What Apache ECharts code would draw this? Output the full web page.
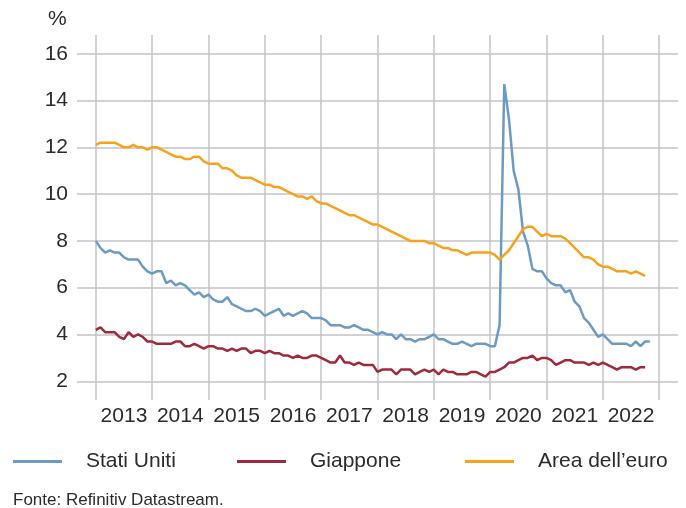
<!DOCTYPE html>
<html>
<head>
<meta charset="utf-8">
<script src="https://cdn.jsdelivr.net/npm/echarts@6/dist/echarts.min.js"></script>
<style>
  html, body { margin: 0; padding: 0; background: #fff; }
  #chart { width: 686px; height: 508px; }
</style>
</head>
<body>
<div id="chart"></div>
<script>
// monthly data, Jan 2013 onwards (x = months since Jan 2013)
const years = [2013, 2014, 2015, 2016, 2017, 2018, 2019, 2020, 2021, 2022];
const yTicks = [2, 4, 6, 8, 10, 12, 14, 16];

const statiUniti = [
  8.0, 7.7, 7.5, 7.6, 7.5, 7.5, 7.3, 7.2, 7.2, 7.2, 6.9, 6.7,
  6.6, 6.7, 6.7, 6.2, 6.3, 6.1, 6.2, 6.1, 5.9, 5.7, 5.8, 5.6,
  5.7, 5.5, 5.4, 5.4, 5.6, 5.3, 5.2, 5.1, 5.0, 5.0, 5.1, 5.0,
  4.8, 4.9, 5.0, 5.1, 4.8, 4.9, 4.8, 4.9, 5.0, 4.9, 4.7, 4.7,
  4.7, 4.6, 4.4, 4.4, 4.4, 4.3, 4.3, 4.4, 4.3, 4.2, 4.2, 4.1,
  4.0, 4.1, 4.0, 4.0, 3.8, 4.0, 3.8, 3.8, 3.7, 3.8, 3.8, 3.9,
  4.0, 3.8, 3.8, 3.7, 3.6, 3.6, 3.7, 3.6, 3.5, 3.6, 3.6, 3.6,
  3.5, 3.5, 4.4, 14.7, 13.2, 11.0, 10.2, 8.4, 7.8, 6.8, 6.7, 6.7,
  6.4, 6.2, 6.1, 6.1, 5.8, 5.9, 5.4, 5.2, 4.7, 4.5, 4.2, 3.9,
  4.0, 3.8, 3.6, 3.6, 3.6, 3.6, 3.5, 3.7, 3.5, 3.7, 3.7
];

const giappone = [
  4.2, 4.3, 4.1, 4.1, 4.1, 3.9, 3.8, 4.1, 3.9, 4.0, 3.9, 3.7,
  3.7, 3.6, 3.6, 3.6, 3.6, 3.7, 3.7, 3.5, 3.5, 3.6, 3.5, 3.4,
  3.5, 3.5, 3.4, 3.4, 3.3, 3.4, 3.3, 3.4, 3.4, 3.2, 3.3, 3.3,
  3.2, 3.3, 3.2, 3.2, 3.1, 3.1, 3.0, 3.1, 3.0, 3.0, 3.1, 3.1,
  3.0, 2.9, 2.8, 2.8, 3.1, 2.8, 2.8, 2.7, 2.8, 2.7, 2.7, 2.7,
  2.4, 2.5, 2.5, 2.5, 2.3, 2.5, 2.5, 2.5, 2.3, 2.4, 2.5, 2.4,
  2.5, 2.3, 2.5, 2.4, 2.4, 2.3, 2.3, 2.3, 2.4, 2.4, 2.3, 2.2,
  2.4, 2.4, 2.5, 2.6, 2.8, 2.8, 2.9, 3.0, 3.0, 3.1, 2.9, 3.0,
  3.0, 2.9, 2.7, 2.8, 2.9, 2.9, 2.8, 2.8, 2.8, 2.7, 2.8, 2.7,
  2.8, 2.7, 2.6, 2.5, 2.6, 2.6, 2.6, 2.5, 2.6, 2.6
];

const areaEuro = [
  12.1, 12.2, 12.2, 12.2, 12.2, 12.1, 12.0, 12.0, 12.1, 12.0, 12.0, 11.9,
  12.0, 12.0, 11.9, 11.8, 11.7, 11.6, 11.6, 11.5, 11.5, 11.6, 11.6, 11.4,
  11.3, 11.3, 11.3, 11.1, 11.1, 11.0, 10.8, 10.7, 10.7, 10.7, 10.6, 10.5,
  10.4, 10.4, 10.3, 10.3, 10.2, 10.1, 10.0, 9.9, 9.9, 9.8, 9.9, 9.7,
  9.6, 9.6, 9.5, 9.4, 9.3, 9.2, 9.1, 9.1, 9.0, 8.9, 8.8, 8.7,
  8.7, 8.6, 8.5, 8.4, 8.3, 8.2, 8.1, 8.0, 8.0, 8.0, 8.0, 7.9,
  7.9, 7.8, 7.7, 7.7, 7.6, 7.6, 7.5, 7.4, 7.5, 7.5, 7.5, 7.5,
  7.5, 7.4, 7.2, 7.4, 7.6, 7.9, 8.2, 8.5, 8.6, 8.6, 8.4, 8.2,
  8.3, 8.2, 8.2, 8.2, 8.1, 7.9, 7.7, 7.5, 7.3, 7.3, 7.2, 7.0,
  6.9, 6.9, 6.8, 6.7, 6.7, 6.7, 6.6, 6.7, 6.6, 6.5
];

const font = 'Liberation Sans, Arial, sans-serif';
const txt = '#2b2b2b';

// x as months since Jan 2013
const toPoints = arr => arr.map((v, i) => [i, v]);
const yearLines = years.map((y, i) => i * 12).concat([years.length * 12]);
const yearMids = years.map((y, i) => i * 12 + 6);

const chart = echarts.init(document.getElementById('chart'));

function legendItem(name, left) {
  return {
    data: [name],
    left: left,
    top: 451,
    padding: 0,
    icon: 'rect',
    itemWidth: 49,
    itemHeight: 3,
    selectedMode: false,
    textStyle: {
      fontFamily: font,
      fontSize: 21,
      color: txt,
      padding: [0, 0, 0, 19]
    }
  };
}

chart.setOption({
  animation: false,
  title: [
    {
      text: '%',
      left: 48,
      top: 9,
      padding: 0,
      textStyle: { fontFamily: font, fontSize: 21, fontWeight: 'normal', color: txt }
    },
    {
      text: 'Fonte: Refinitiv Datastream.',
      left: 13,
      top: 492,
      padding: 0,
      textStyle: { fontFamily: font, fontSize: 17, fontWeight: 'normal', color: txt }
    }
  ],
  legend: [
    legendItem('Stati Uniti', 13),
    legendItem('Giappone', 237),
    legendItem('Area dell\u2019euro', 465)
  ],
  grid: { left: 77, right: 8, top: 35, bottom: 108, containLabel: false },
  xAxis: {
    type: 'value',
    min: -4,
    max: 124,
    axisLine: { show: false },
    axisTick: { show: false, customValues: yearLines },
    splitLine: { show: true, lineStyle: { color: '#c2c2c9', width: 1.5 } },
    axisLabel: {
      customValues: yearMids,
      formatter: v => String(years[(v - 6) / 12]),
      fontFamily: font,
      fontSize: 21,
      color: txt,
      margin: 6
    }
  },
  yAxis: {
    type: 'value',
    min: 1.2,
    max: 16.8,
    axisLine: { show: false },
    axisTick: { show: false, customValues: yTicks },
    splitLine: { show: true, lineStyle: { color: '#c2c2c9', width: 1.5 } },
    axisLabel: {
      customValues: yTicks,
      fontFamily: font,
      fontSize: 21,
      color: txt,
      margin: 9
    }
  },
  series: [
    {
      name: 'Stati Uniti',
      type: 'line',
      data: toPoints(statiUniti),
      showSymbol: false,
      color: '#6b9bc3',
      lineStyle: { width: 2.5, color: '#6b9bc3' }
    },
    {
      name: 'Giappone',
      type: 'line',
      data: toPoints(giappone),
      showSymbol: false,
      color: '#9e2a3b',
      lineStyle: { width: 2.5, color: '#9e2a3b' }
    },
    {
      name: 'Area dell\u2019euro',
      type: 'line',
      data: toPoints(areaEuro),
      showSymbol: false,
      color: '#f7a21c',
      lineStyle: { width: 2.5, color: '#f7a21c' }
    }
  ]
});
</script>
</body>
</html>
